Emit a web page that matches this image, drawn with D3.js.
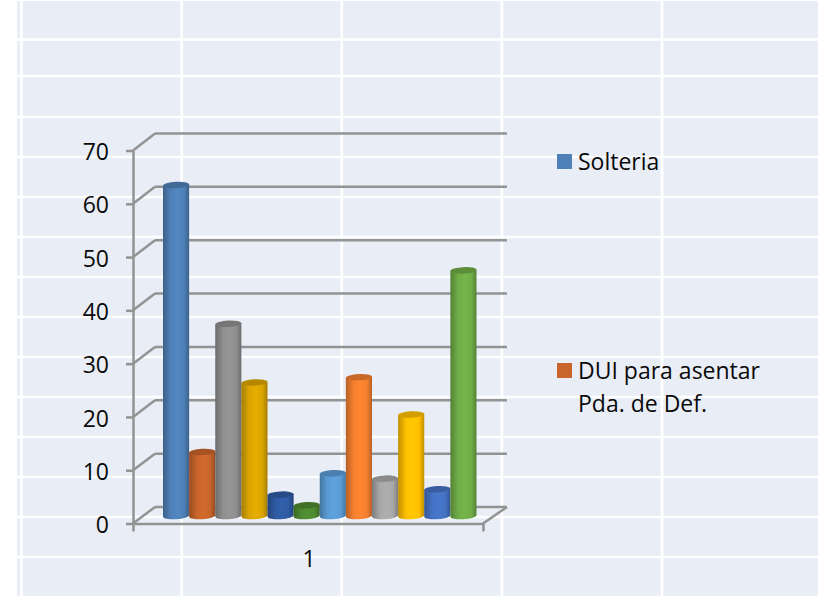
<!DOCTYPE html>
<html><head><meta charset="utf-8">
<script src="https://cdn.jsdelivr.net/npm/d3@7/dist/d3.min.js"></script>
<style>html,body{margin:0;padding:0;background:#fff}svg{display:block}text{font-family:"Open Sans",Lato,sans-serif;fill:#0a0a0a}</style>
</head><body><svg id="c" width="818" height="597"></svg>
<script>
const categoryLabels = ["1"];
const seriesValues = [62, 12, 36, 25, 4, 2, 8, 26, 7, 19, 5, 46];
const seriesColors = ["#4f81b8","#c9652a","#8f8f8f","#dca600","#2f5ba3","#4f8a30","#5b9bd5","#f58030","#a8a8a8","#ffc000","#4472c4","#70ad47"];
const yTicks = [0,10,20,30,40,50,60,70];
const legendEntries = [
  {lines:["Solteria"], color:"#4f81b8"},
  {lines:["DUI para asentar","Pda. de Def."], color:"#c9652a"}
];

const svg = d3.select("#c");
const defs = svg.append("defs");
const lineCol = "#939393";

// background panel with white grid
const W=818,H=597,panelX=17;
svg.append("rect").attr("x",panelX).attr("y",1).attr("width",W-panelX).attr("height",H-1).attr("fill","#e9edf6");
const gx = d3.scaleLinear().domain([0,4]).range([21.5,662]);
const gy = d3.scaleLinear().domain([0,14]).range([37,597]);
svg.append("g").selectAll("line").data(d3.range(0,5)).join("line")
  .attr("x1",d=>gx(d)).attr("x2",d=>gx(d)).attr("y1",0).attr("y2",H)
  .attr("stroke","#fff").attr("stroke-width",2.7);
svg.append("g").selectAll("line").data(d3.range(0,15)).join("line")
  .attr("x1",panelX).attr("x2",W).attr("y1",d=>gy(d)+(d==0?2.5:d==1?-1:0)).attr("y2",d=>gy(d)+(d==0?2.5:d==1?-1:0))
  .attr("stroke","#fff").attr("stroke-width",2.7);

// three planes of the pseudo-3D chart
const yFront = d3.scaleLinear().domain([0,70]).range([523.5,150.5]);
const yBack  = d3.scaleLinear().domain([0,70]).range([507,133.5]);
const yBar   = d3.scaleLinear().domain([0,70]).range([516,142.2]);
const xFront = d3.scaleBand().domain(categoryLabels).range([133,483]);
const xBar   = d3.scaleBand().domain(d3.range(seriesValues.length)).range([163,476.5]);
const depthX0=133, depthX1=155, backRight=507;

// walls
const walls = svg.append("g").attr("stroke",lineCol).attr("stroke-width",2.5).attr("fill","none");
walls.selectAll("line.b").data(yTicks).join("line").attr("class","b")
  .attr("x1",depthX1).attr("x2",backRight).attr("y1",d=>yBack(d)).attr("y2",d=>yBack(d));
walls.selectAll("line.s").data(yTicks).join("line").attr("class","s")
  .attr("x1",depthX0).attr("x2",depthX1).attr("y1",d=>yFront(d)).attr("y2",d=>yBack(d));
walls.append("line").attr("x1",xFront.range()[1]).attr("x2",backRight).attr("y1",yFront(0)).attr("y2",yBack(0));

// axes
const ay = svg.append("g").attr("transform",`translate(${depthX0},0)`)
  .call(d3.axisLeft(yFront).tickValues(yTicks).tickSize(7).tickSizeOuter(0).tickPadding(17));
const ax = svg.append("g").attr("transform",`translate(0,${yFront(0)})`)
  .call(d3.axisBottom(xFront).tickSize(0).tickSizeOuter(8).tickPadding(27));
[ay,ax].forEach(a=>{
  a.selectAll("path,line").attr("stroke",lineCol).attr("stroke-width",2.5);
  a.selectAll("text").style("font-size","23px").attr("fill","#0a0a0a");
});
ay.selectAll("text").attr("dy","0.40em");
ax.selectAll("text").attr("dx",1);

// cylinders
const rx = xBar.bandwidth()/2, ry=3.2, rot=-3;
const cyl = svg.append("g").selectAll("g").data(seriesValues).join("g");
cyl.each(function(v,i){
  const g=d3.select(this), c=seriesColors[i], id="cyl"+i;
  const lg=defs.append("linearGradient").attr("id",id);
  [[0,d3.color(c).darker(0.8)],[0.3,d3.color(c)],[0.55,d3.color(c).brighter(0.12)],[0.8,d3.color(c)],[1,d3.color(c).darker(0.8)]]
    .forEach(([o,col])=>lg.append("stop").attr("offset",o).attr("stop-color",col));
  const x0=xBar(i), x1=x0+xBar.bandwidth(), cx=x0+rx, yb=yBar(0), yt=yBar(v);
  g.append("path").attr("fill",`url(#${id})`)
    .attr("d",`M${x0},${yt+0.7}L${x0},${yb+0.7}A${rx},${ry} ${rot} 0 0 ${x1},${yb-0.7}L${x1},${yt-0.7}Z`);
  g.append("ellipse").attr("cx",cx).attr("cy",yt).attr("rx",rx).attr("ry",ry)
    .attr("transform",`rotate(${rot} ${cx} ${yt})`).attr("fill",d3.color(c).darker(0.55));
});

// legend
const legendY = d3.scalePoint().domain(d3.range(legendEntries.length)).range([161.5,370.5]);
const leg = svg.append("g").selectAll("g").data(legendEntries).join("g")
  .attr("transform",(d,i)=>`translate(557,${legendY(i)})`);
leg.append("rect").attr("y",-7.5).attr("width",15).attr("height",15).attr("fill",d=>d.color);
leg.each(function(d){
  d3.select(this).selectAll("text").data(d.lines).join("text")
    .attr("x",21).attr("y",(l,j)=>8+j*33).style("font-size","23px").text(l=>l);
});
</script></body></html>
